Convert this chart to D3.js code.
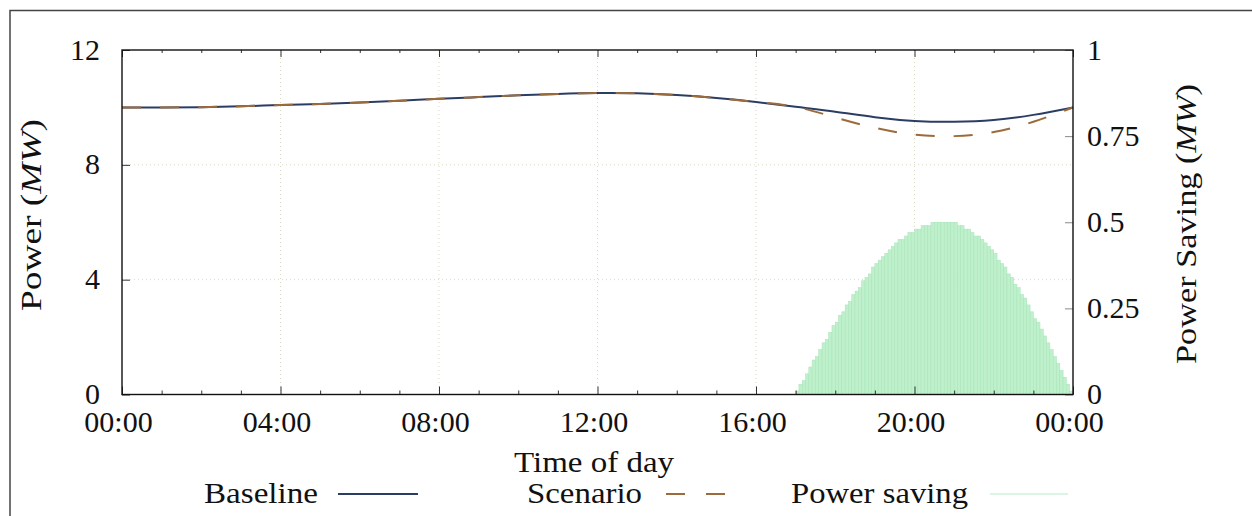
<!DOCTYPE html>
<html><head><meta charset="utf-8">
<script src="https://cdn.jsdelivr.net/npm/d3@7"></script>
<style>
html,body{margin:0;padding:0;background:#fff;}
svg{display:block;}
text{font-family:"Liberation Serif","DejaVu Serif",serif;fill:#111;}
</style></head>
<body><svg id="c" width="1252" height="516"></svg>
<script>
// ---- data ----
const hours = [0,1,2,3,4,5,6,7,8,9,10,11,12,13,14,15,16,17,18,19,20,21,22,23,24];
const baseline = [10.00,10.00,10.01,10.04,10.08,10.12,10.17,10.23,10.30,10.36,10.42,10.47,10.50,10.49,10.43,10.33,10.19,10.02,9.85,9.66,9.53,9.50,9.56,9.74,10.00];
const scenario = [10.00,10.00,10.01,10.04,10.08,10.12,10.17,10.23,10.30,10.36,10.42,10.47,10.50,10.49,10.43,10.33,10.19,10.02,9.65,9.29,9.05,9.00,9.14,9.50,10.00];
// power saving, 5-minute bars from 17:00 to 24:00
const savingStartHour = 17;
const savingStepHours = 1/12;
const saving = [0.01,0.03,0.04,0.06,0.08,0.10,0.11,0.13,0.15,0.16,0.18,0.20,0.21,0.23,0.24,0.26,0.27,0.29,0.30,0.31,0.33,0.34,0.35,0.37,0.38,0.39,0.40,0.41,0.42,0.43,0.44,0.45,0.45,0.46,0.47,0.47,0.48,0.48,0.49,0.49,0.49,0.50,0.50,0.50,0.50,
0.50,0.50,0.50,0.50,0.49,0.49,0.48,0.48,0.47,0.46,0.46,0.45,0.44,0.43,0.42,0.41,0.39,0.38,0.37,0.35,0.34,0.32,0.31,0.29,0.28,0.26,0.24,0.22,0.21,0.19,0.17,0.15,0.13,0.11,0.09,0.07,0.05,0.03,0.01];
const xTickHours = [0,4,8,12,16,20,24];
const xTickLabels = ["00:00","04:00","08:00","12:00","16:00","20:00","00:00"];
const yTicks = [0,4,8,12];
const y2Ticks = [0,0.25,0.5,0.75,1];
const y2TickLabels = ["0","0.25","0.5","0.75","1"];
const seriesNames = ["Baseline","Scenario","Power saving"];

// ---- layout ----
const svg = d3.select("#c");
const L = 122, R = 1073, T = 50, B = 394.5;
const x = d3.scaleLinear().domain([0,24]).range([L,R]);
const y = d3.scaleLinear().domain([0,12]).range([B,T]);
const y2 = d3.scaleLinear().domain([0,1]).range([B,T]);

// outer frame
svg.append("rect").attr("x",10).attr("y",10.5).attr("width",1400).attr("height",700)
  .attr("fill","none").attr("stroke","#444").attr("stroke-width",1.5);

// grid
const grid = svg.append("g").attr("stroke","#d9d9c4").attr("stroke-width",1).attr("stroke-dasharray","1,3");
grid.selectAll("line.v").data(xTickHours.slice(1,-1)).join("line")
  .attr("x1",d=>x(d)).attr("x2",d=>x(d)).attr("y1",T).attr("y2",B);
grid.selectAll("line.h").data(yTicks.slice(1,-1)).join("line")
  .attr("x1",L).attr("x2",R).attr("y1",d=>y(d)).attr("y2",d=>y(d));

// bars
svg.append("g").selectAll("rect").data(saving).join("rect")
  .attr("x",(d,i)=>x(savingStartHour + i*savingStepHours))
  .attr("width",x(savingStepHours)-x(0))
  .attr("y",d=>y2(d)).attr("height",d=>y2(0)-y2(d))
  .attr("fill","#bff0cc").attr("stroke","#a6e4b6").attr("stroke-width",0.5);

// lines
const line = d3.line().x((d,i)=>x(hours[i])).y(d=>y(d)).curve(d3.curveNatural);
svg.append("path").datum(baseline).attr("d",line).attr("fill","none")
  .attr("stroke","#2c3d64").attr("stroke-width",2);
svg.append("path").datum(scenario).attr("d",line).attr("fill","none")
  .attr("stroke","#9c6b3b").attr("stroke-width",2).attr("stroke-dasharray","19,19");

// axes
function styleAxis(g){
  g.select(".domain").remove();
  g.attr("font-family",null);
  g.selectAll("text").style("font-size","30px");
}
const minorHours = hours.filter(h=>h%4!==0);
// bottom
svg.append("g").attr("transform",`translate(0,${B})`)
  .call(d3.axisBottom(x).tickValues(xTickHours).tickSize(-8).tickPadding(37).tickFormat((d,i)=>xTickLabels[i]))
  .call(styleAxis).call(g=>g.selectAll("line").attr("stroke","#333"))
  .call(g=>g.selectAll("text").attr("dy","0").attr("dx","-4"));
svg.append("g").attr("transform",`translate(0,${B})`)
  .call(d3.axisBottom(x).tickValues(minorHours).tickSize(-4).tickFormat(""))
  .call(styleAxis).call(g=>g.selectAll("line").attr("stroke","#333"));
// top mirror
svg.append("g").attr("transform",`translate(0,${T})`)
  .call(d3.axisTop(x).tickValues(xTickHours).tickSize(-7).tickFormat(""))
  .call(styleAxis).call(g=>g.selectAll("line").attr("stroke","#333"));
svg.append("g").attr("transform",`translate(0,${T})`)
  .call(d3.axisTop(x).tickValues(minorHours).tickSize(-3).tickFormat(""))
  .call(styleAxis).call(g=>g.selectAll("line").attr("stroke","#333"));
// left
svg.append("g").attr("transform",`translate(${L},0)`)
  .call(d3.axisLeft(y).tickValues(yTicks).tickSize(-8).tickPadding(22))
  .call(styleAxis).call(g=>g.selectAll("line").attr("stroke","#333"))
  .call(g=>g.selectAll("text").attr("dy","0.3em"));
// right
svg.append("g").attr("transform",`translate(${R},0)`)
  .call(d3.axisRight(y2).tickValues(y2Ticks).tickSize(-8).tickPadding(14).tickFormat((d,i)=>y2TickLabels[i]))
  .call(styleAxis).call(g=>g.selectAll("line").attr("stroke","#888"))
  .call(g=>g.selectAll("text").attr("dy","0.3em"));

// plot frame
svg.append("rect").attr("x",L).attr("y",T).attr("width",R-L).attr("height",B-T)
  .attr("fill","none").attr("stroke","#111").attr("stroke-width",1.4);

// titles
const t1 = svg.append("text").attr("transform","translate(41,215) rotate(-90)")
  .attr("text-anchor","middle").style("font-size","30px")
  .attr("textLength",192).attr("lengthAdjust","spacingAndGlyphs");
t1.append("tspan").text("Power (");
t1.append("tspan").attr("font-style","italic").text("MW");
t1.append("tspan").text(")");
const t2 = svg.append("text").attr("transform","translate(1196,224) rotate(-90)")
  .attr("text-anchor","middle").style("font-size","30px")
  .attr("textLength",280).attr("lengthAdjust","spacingAndGlyphs");
t2.append("tspan").text("Power Saving (");
t2.append("tspan").attr("font-style","italic").text("MW");
t2.append("tspan").text(")");
svg.append("text").attr("x",594).attr("y",472).attr("text-anchor","middle")
  .style("font-size","30px").attr("textLength",160).attr("lengthAdjust","spacingAndGlyphs").text("Time of day");

// legend
const legend = [
  {name:seriesNames[0], tx:318, len:114, lx1:338, lx2:418, color:"#2c3d64", dash:null, w:2},
  {name:seriesNames[1], tx:642, len:115, lx1:666, lx2:725, color:"#9c6b3b", dash:"19,21", w:2},
  {name:seriesNames[2], tx:968, len:177, lx1:990, lx2:1068, color:"#b5ebc4", dash:null, w:1.2}
];
const lg = svg.append("g").selectAll("g").data(legend).join("g");
lg.append("text").attr("x",d=>d.tx).attr("y",503).attr("text-anchor","end")
  .style("font-size","30px").attr("textLength",d=>d.len).attr("lengthAdjust","spacingAndGlyphs").text(d=>d.name);
lg.append("line").attr("x1",d=>d.lx1).attr("x2",d=>d.lx2).attr("y1",494).attr("y2",494)
  .attr("stroke",d=>d.color).attr("stroke-width",d=>d.w).attr("stroke-dasharray",d=>d.dash);
</script></body></html>
